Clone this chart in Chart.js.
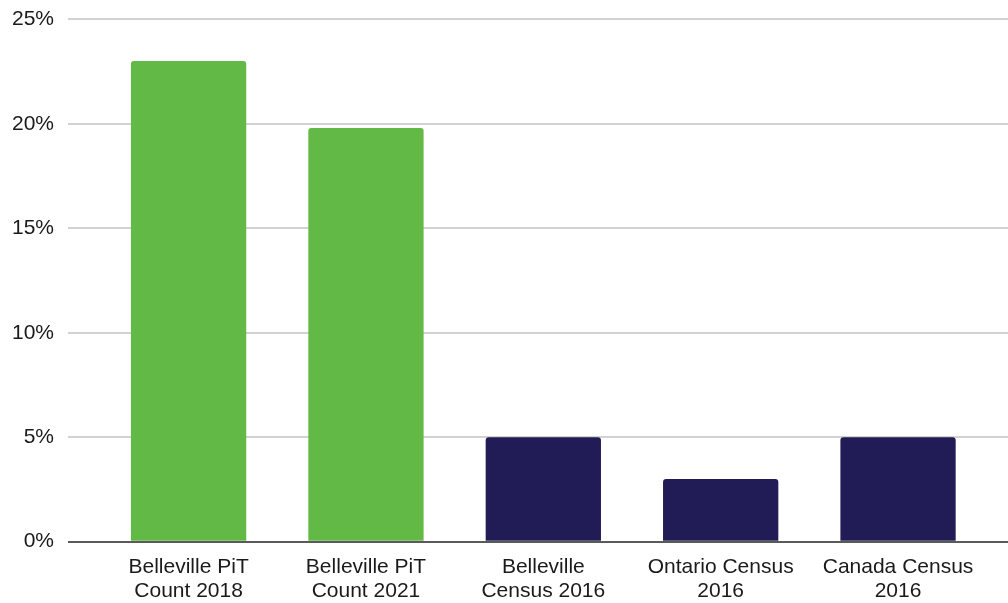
<!DOCTYPE html>
<html>
<head>
<meta charset="utf-8">
<script src="https://cdn.jsdelivr.net/npm/chart.js@4"></script>
<style>
  html, body { margin: 0; padding: 0; background: #fff; }
  #wrap { width: 1008px; height: 603px; position: relative; }
</style>
</head>
<body>
<div id="wrap"><canvas id="myChart"></canvas></div>
<script>
// categories and values (percent)
var labels = [
    ["Belleville PiT", "Count 2018"],
    ["Belleville PiT", "Count 2021"],
    ["Belleville", "Census 2016"],
    ["Ontario Census", "2016"],
    ["Canada Census", "2016"]
];
var values = [23, 19.8, 5, 3, 5];
var barColors = ['#63b946', '#63b946', '#211c55', '#211c55', '#211c55'];
var yTicks = [0, 5, 10, 15, 20, 25];

var points = values.map(function (v, i) { return { x: i, y: v }; });

Chart.defaults.font.family = '"Liberation Sans", Arial, sans-serif';
Chart.defaults.color = '#1a1a1a';

var ctx = document.getElementById('myChart').getContext('2d');
var chart = new Chart(ctx, {
    type: 'bar',
    data: {
        datasets: [{
            data: points,
            backgroundColor: barColors,
            borderWidth: 0,
            borderRadius: { topLeft: 3, topRight: 3, bottomLeft: 0, bottomRight: 0 },
            borderSkipped: 'bottom',
            barPercentage: 0.65,
            categoryPercentage: 1
        }]
    },
    options: {
        responsive: true,
        maintainAspectRatio: false,
        animation: false,
        layout: { padding: { top: 0, right: 0, bottom: -5, left: 0 } },
        plugins: {
            legend: { display: false },
            tooltip: { enabled: false }
        },
        scales: {
            x: {
                type: 'linear',
                offset: false,
                min: -0.68,
                max: 4.62,
                grid: { display: false, offset: false },
                border: { display: false },
                ticks: {
                    stepSize: 1,
                    includeBounds: false,
                    autoSkip: false,
                    maxRotation: 0,
                    padding: 5,
                    font: { size: 21, lineHeight: 1.15 },
                    callback: function (v) {
                        return Number.isInteger(v) && labels[v] ? labels[v] : '';
                    }
                }
            },
            y: {
                min: yTicks[0],
                max: yTicks[yTicks.length - 1],
                border: { display: false },
                afterFit: function (scale) { scale.width = 68; },
                grid: {
                    drawTicks: false,
                    lineWidth: 2,
                    color: function (c) { return c.tick && c.tick.value === 0 ? '#5a5a5a' : '#d2d2d2'; }
                },
                ticks: {
                    stepSize: 5,
                    padding: 14,
                    font: { size: 21, lineHeight: 0.5 },
                    callback: function (v) { return v + '%'; }
                }
            }
        }
    }
});
</script>
</body>
</html>
